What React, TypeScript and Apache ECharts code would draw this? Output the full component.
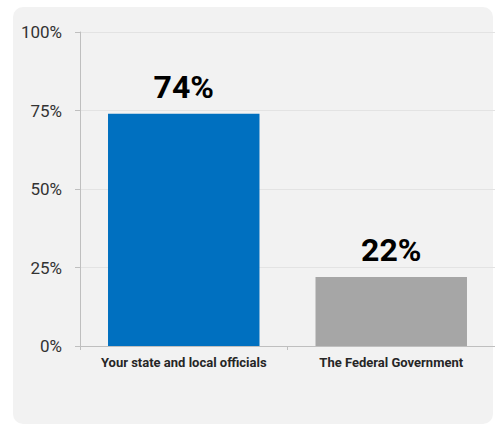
import React, { useEffect, useRef } from "react";
import * as echarts from "echarts";

const categories = ["Your state and local officials", "The Federal Government"];
const values = [74, 22];
const barColors = ["#0070c0", "#a6a6a6"];
const yTicks = [0, 25, 50, 75, 100];

export default function App() {
  const ref = useRef<HTMLDivElement>(null);
  useEffect(() => {
    if (!ref.current) return;
    const chart = echarts.init(ref.current, undefined, { renderer: "svg" });
    chart.setOption({
      animation: false,
      backgroundColor: "#ffffff",
      textStyle: { fontFamily: "Roboto" },
      graphic: [
        {
          type: "rect",
          z: -10,
          silent: true,
          shape: { x: 13, y: 7, width: 480, height: 417, r: 10 },
          style: { fill: "#f2f2f2" },
        },
      ],
      grid: { left: 80, right: -1, top: 32, bottom: 79, containLabel: false },
      xAxis: {
        type: "category",
        data: categories,
        axisLine: { show: true, lineStyle: { color: "#bfbfbf", width: 1 } },
        axisTick: { show: true, length: 4, alignWithLabel: false, lineStyle: { color: "#bfbfbf" } },
        axisLabel: {
          interval: 0,
          hideOverlap: false,
          color: "#262626",
          fontSize: 13,
          fontWeight: "bold",
          fontFamily: "Roboto",
          margin: 10,
        },
      },
      yAxis: {
        type: "value",
        min: yTicks[0],
        max: yTicks[yTicks.length - 1],
        interval: 25,
        axisLine: { show: true, lineStyle: { color: "#bfbfbf", width: 1 } },
        axisTick: { show: true, length: 5, lineStyle: { color: "#bfbfbf" } },
        splitLine: { show: true, lineStyle: { color: "#e3e3e3", width: 1 } },
        axisLabel: {
          color: "#333333",
          fontSize: 17,
          fontFamily: "Roboto",
          margin: 18,
          formatter: (v: number) => `${v}%`,
        },
      },
      series: [
        {
          type: "bar",
          barWidth: "73%",
          data: values.map((v, i) => ({ value: v, itemStyle: { color: barColors[i] } })),
          label: {
            show: true,
            position: "top",
            distance: 11,
            color: "#000000",
            fontSize: 32,
            fontWeight: "bold",
            fontFamily: "Roboto",
            formatter: (p: any) => `${p.value}%`,
          },
        },
      ],
    });
    return () => chart.dispose();
  }, []);
  return (
    <div
      ref={ref}
      style={{ position: "absolute", left: 0, top: 0, width: 495, height: 425 }}
    />
  );
}
